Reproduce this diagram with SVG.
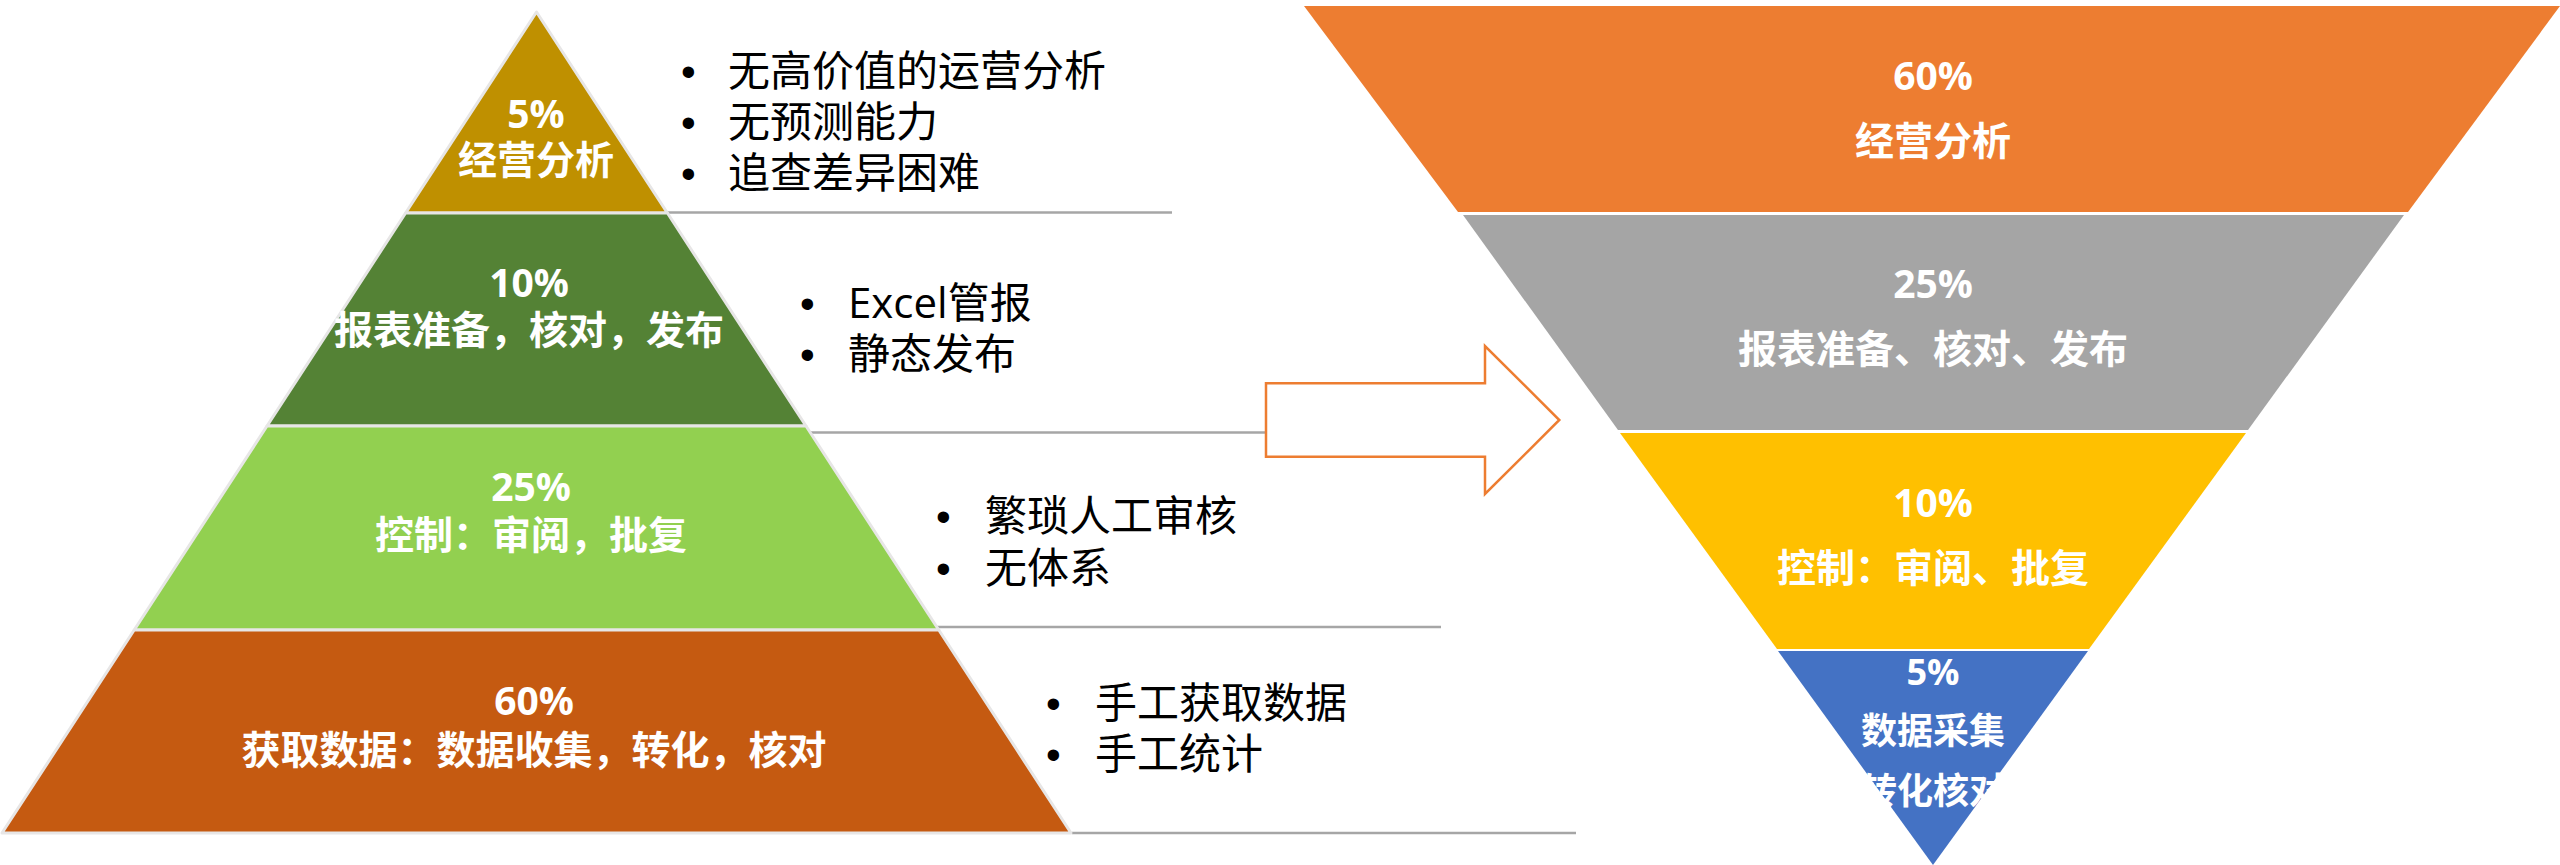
<svg xmlns="http://www.w3.org/2000/svg" width="2560" height="865" viewBox="0 0 2560 865">
<style>
.seg{stroke:#E7E6E6;stroke-width:3;stroke-linejoin:round}
.lbl{font-family:"Open Sans","Noto Sans CJK SC",sans-serif;font-weight:700;font-size:39px;fill:#FFFFFF;text-anchor:middle}
.lbs{font-size:36px}
.blt{font-family:"Open Sans","Noto Sans CJK SC",sans-serif;font-size:42px;fill:#000000}
.dot{font-family:"Liberation Sans",sans-serif}
.sep{stroke:#A6A6A6;stroke-width:2.5;fill:none}
</style>
<rect width="2560" height="865" fill="#FFFFFF"/>
<g id="connectors">
<line class="sep" x1="668" y1="212.5" x2="1172" y2="212.5"/>
<line class="sep" x1="808" y1="432.5" x2="1266" y2="432.5"/>
<line class="sep" x1="937" y1="627" x2="1441" y2="627"/>
<line class="sep" x1="1072" y1="833" x2="1576" y2="833"/>
</g>
<g id="pyr-top">
<polygon class="seg" fill="#BF9000" points="536.5,12 667.4,213 405.6,213"/>
<text class="lbl"><tspan x="536" y="128">5%</tspan><tspan x="536" y="174">经营分析</tspan></text>
</g>
<g id="pyr-2">
<polygon class="seg" fill="#548235" points="405.6,213 667.4,213 806,426 267,426"/>
<text class="lbl"><tspan x="529" y="297">10%</tspan><tspan x="529" y="344">报表准备，核对，发布</tspan></text>
</g>
<g id="pyr-3">
<polygon class="seg" fill="#92D050" points="267,426 806,426 938.8,630 134.2,630"/>
<text class="lbl"><tspan x="531" y="501">25%</tspan><tspan x="531" y="549">控制：审阅，批复</tspan></text>
</g>
<g id="pyr-4">
<polygon class="seg" fill="#C55A11" points="134.2,630 938.8,630 1071,833 2,833"/>
<text class="lbl"><tspan x="534" y="715">60%</tspan><tspan x="534" y="764">获取数据：数据收集，转化，核对</tspan></text>
</g>
<g id="notes-1">
<text class="blt"><tspan class="dot" x="681" y="86">•</tspan><tspan x="728" y="86">无高价值的运营分析</tspan><tspan class="dot" x="681" y="137">•</tspan><tspan x="728" y="137">无预测能力</tspan><tspan class="dot" x="681" y="188">•</tspan><tspan x="728" y="188">追查差异困难</tspan></text>
</g>
<g id="notes-2">
<text class="blt"><tspan class="dot" x="800" y="318">•</tspan><tspan x="848" y="318">Excel管报</tspan><tspan class="dot" x="800" y="369">•</tspan><tspan x="848" y="369">静态发布</tspan></text>
</g>
<g id="notes-3">
<text class="blt"><tspan class="dot" x="936" y="531">•</tspan><tspan x="985" y="531">繁琐人工审核</tspan><tspan class="dot" x="936" y="583">•</tspan><tspan x="985" y="583">无体系</tspan></text>
</g>
<g id="notes-4">
<text class="blt"><tspan class="dot" x="1046" y="718">•</tspan><tspan x="1095" y="718">手工获取数据</tspan><tspan class="dot" x="1046" y="769">•</tspan><tspan x="1095" y="769">手工统计</tspan></text>
</g>
<g id="arrow">
<polygon fill="#FFFFFF" stroke="#ED7D31" stroke-width="2.5" points="1266,383.3 1485,383.3 1485,346 1559.3,420 1485,494 1485,456.7 1266,456.7"/>
</g>
<g id="fun-1">
<polygon fill="#ED7D31" points="1304,6 2560,6 2408,212 1458,212"/>
<text class="lbl"><tspan x="1933" y="90">60%</tspan><tspan x="1933" y="155">经营分析</tspan></text>
</g>
<g id="fun-2">
<polygon fill="#A5A5A5" points="1463,215 2404,215 2248,430 1618,430"/>
<text class="lbl"><tspan x="1933" y="298">25%</tspan><tspan x="1933" y="363">报表准备、核对、发布</tspan></text>
</g>
<g id="fun-3">
<polygon fill="#FFC000" points="1620,433 2246,433 2089,649 1777,649"/>
<text class="lbl"><tspan x="1933" y="517">10%</tspan><tspan x="1933" y="582">控制：审阅、批复</tspan></text>
</g>
<g id="fun-4">
<polygon fill="#4472C4" points="1778,651 2088,651 1933,865"/>
<text class="lbl lbs"><tspan x="1933" y="685">5%</tspan><tspan x="1933" y="744">数据采集</tspan><tspan x="1933" y="804">转化核对</tspan></text>
</g>
</svg>
